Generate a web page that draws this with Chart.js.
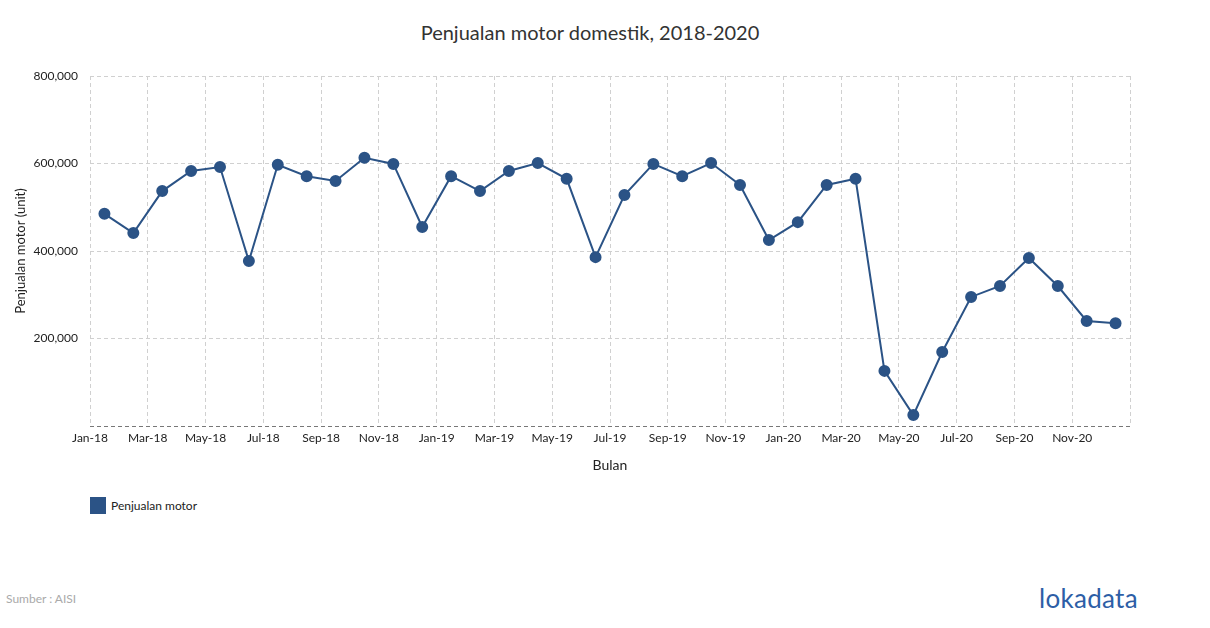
<!DOCTYPE html>
<html>
<head>
<meta charset="utf-8">
<script src="https://cdn.jsdelivr.net/npm/chart.js@4"></script>
<style>
    body { margin: 0; width: 1210px; height: 628px; background: #fff; font-family: Lato, sans-serif; position: relative; overflow: hidden; }
    #chart { position: absolute; left: 0; top: 0; }
    .title { position: absolute; top: 20px; left: 0; width: 1180px; text-align: center; font-size: 20px; color: #333; }
    .legend { position: absolute; left: 90px; top: 497px; font-size: 12px; color: #222; display: flex; align-items: center; }
    .legend span.box { display: inline-block; width: 16px; height: 17px; background: #2b5386; margin-right: 5px; }
    .source { position: absolute; left: 6px; top: 591px; font-size: 12px; color: #aaa; }
    .logo { position: absolute; left: 1039px; top: 582px; font-size: 26px; color: #2d5ea6; letter-spacing: 0.3px; }
</style>
</head>
<body>
<div class="title">Penjualan motor domestik, 2018-2020</div>
<canvas id="chart" width="1210" height="490"></canvas>
<div class="legend"><span class="box"></span>Penjualan motor</div>
<div class="source">Sumber : AISI</div>
<div class="logo">lokadata</div>
<script>
// Monthly categories Jan-18 .. Dec-20
const months = [
    'Jan-18', 'Feb-18', 'Mar-18', 'Apr-18', 'May-18', 'Jun-18', 'Jul-18', 'Aug-18', 'Sep-18', 'Oct-18', 'Nov-18', 'Dec-18',
    'Jan-19', 'Feb-19', 'Mar-19', 'Apr-19', 'May-19', 'Jun-19', 'Jul-19', 'Aug-19', 'Sep-19', 'Oct-19', 'Nov-19', 'Dec-19',
    'Jan-20', 'Feb-20', 'Mar-20', 'Apr-20', 'May-20', 'Jun-20', 'Jul-20', 'Aug-20', 'Sep-20', 'Oct-20', 'Nov-20', 'Dec-20'
];

// Domestic motorcycle sales (unit)
const sales = [
    485000, 441000, 537000, 583000, 592000, 377000, 597000, 571000, 560000, 613000, 599000, 455000,
    571000, 537000, 583000, 601000, 565000, 386000, 528000, 599000, 571000, 601000, 551000, 425000,
    466000, 551000, 565000, 126000, 25000, 169000, 295000, 320000, 384000, 320000, 240000, 235000
];

// Tick labels on the x axis (every second month)
const xTickLabels = [
    'Jan-18', 'Mar-18', 'May-18', 'Jul-18', 'Sep-18', 'Nov-18',
    'Jan-19', 'Mar-19', 'May-19', 'Jul-19', 'Sep-19', 'Nov-19',
    'Jan-20', 'Mar-20', 'May-20', 'Jul-20', 'Sep-20', 'Nov-20'
];
const yTicks = [0, 200000, 400000, 600000, 800000];

const lineColor = '#2b5386';

// each month sits in the middle of its slot
const points = sales.map((v, i) => ({ x: i + 0.5, y: v, label: months[i] }));

const ctx = document.getElementById('chart').getContext('2d');
new Chart(ctx, {
    type: 'line',
    data: {
        datasets: [{
            label: 'Penjualan motor',
            data: points,
            borderColor: lineColor,
            backgroundColor: lineColor,
            borderWidth: 2,
            pointRadius: 5,
            pointHoverRadius: 5,
            tension: 0
        }]
    },
    options: {
        responsive: false,
        devicePixelRatio: 1,
        animation: false,
        layout: {
            padding: { top: 76, left: 0, right: 80, bottom: 10 }
        },
        plugins: {
            legend: { display: false },
            title: { display: false },
            tooltip: { enabled: false }
        },
        scales: {
            x: {
                type: 'linear',
                min: 0,
                max: months.length,
                afterBuildTicks: function(scale) {
                    scale.ticks = [];
                    for (let i = 0; i <= months.length; i += 2) scale.ticks.push({ value: i });
                },
                afterFit: function(scale) { scale.height = 54; },
                ticks: {
                    autoSkip: false,
                    maxRotation: 0,
                    padding: 5,
                    color: '#222',
                    font: { family: 'Lato', size: 12 },
                    callback: function(value) {
                        const label = xTickLabels[value / 2];
                        return label || '';
                    }
                },
                grid: { color: '#d0d0d0', lineWidth: 1, drawTicks: false },
                border: { display: false, dash: [4, 3] },
                title: {
                    display: true,
                    text: 'Bulan',
                    color: '#222',
                    font: { family: 'Lato', size: 14 },
                    padding: { top: 4, bottom: 6 }
                }
            },
            y: {
                min: 0,
                max: 800000,
                afterBuildTicks: function(scale) {
                    scale.ticks = yTicks.map(v => ({ value: v }));
                },
                afterFit: function(scale) { scale.width = 90; },
                ticks: {
                    padding: 12,
                    color: '#222',
                    font: { family: 'Lato', size: 12 },
                    callback: function(value) {
                        return value === 0 ? '' : value.toLocaleString('en-US');
                    }
                },
                grid: {
                    color: function(c) { return c.tick && c.tick.value === 0 ? '#777' : '#d0d0d0'; },
                    lineWidth: 1,
                    drawTicks: false
                },
                border: { display: false, dash: [4, 3] },
                title: {
                    display: true,
                    text: 'Penjualan motor (unit)',
                    color: '#222',
                    font: { family: 'Lato', size: 13 },
                    padding: { top: 13, bottom: 4 }
                }
            }
        }
    }
});
</script>
</body>
</html>
